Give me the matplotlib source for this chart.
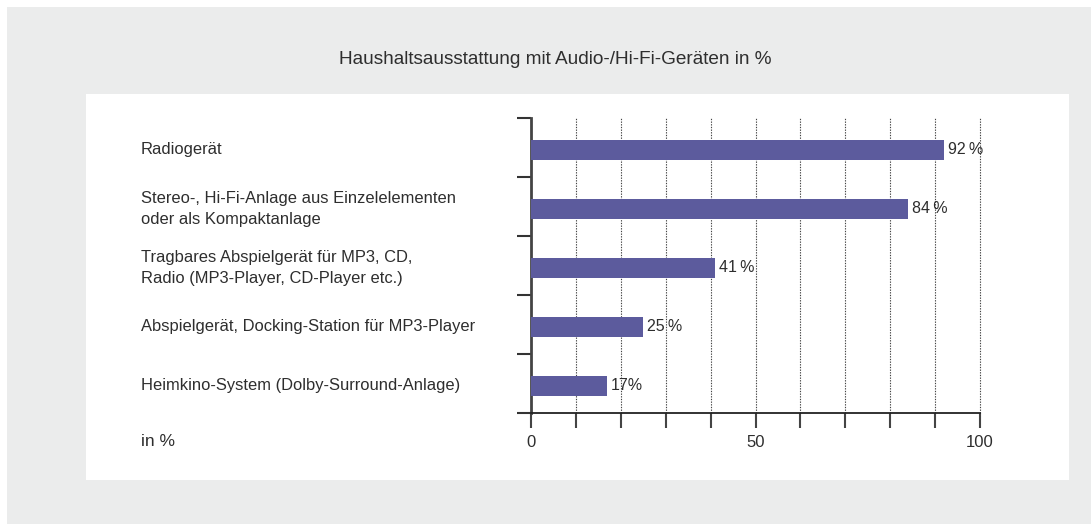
import matplotlib.pyplot as plt
import matplotlib.transforms as mtransforms
from matplotlib.patches import Rectangle

plt.rcParams['font.family'] = ['Liberation Sans', 'DejaVu Sans']

categories = [
    "Radiogerät",
    "Stereo-, Hi-Fi-Anlage aus Einzelelementen\noder als Kompaktanlage",
    "Tragbares Abspielgerät für MP3, CD,\nRadio (MP3-Player, CD-Player etc.)",
    "Abspielgerät, Docking-Station für MP3-Player",
    "Heimkino-System (Dolby-Surround-Anlage)",
]
values = [92, 84, 41, 25, 17]
value_labels = ["92\u2009%", "84\u2009%", "41\u2009%", "25\u2009%", "17%"]
title = "Haushaltsausstattung mit Audio-/Hi-Fi-Geräten in %"

W, H = 1091, 524
fig = plt.figure(figsize=(W / 100, H / 100), dpi=100)
fig.patch.set_facecolor("white")

def px_rect(x0, y0, x1, y1, color):
    # pixel box (top-left origin) -> figure fraction rectangle
    fig.patches.append(Rectangle((x0 / W, 1 - y1 / H), (x1 - x0) / W, (y1 - y0) / H,
                                 transform=fig.transFigure, facecolor=color,
                                 edgecolor="none", zorder=-10))

px_rect(7, 7, W, H, "#ebecec")
px_rect(86, 94, 1069, 480, "white")

text_col = "#2e2e2e"
bar_col = "#5c5b9d"

ax = fig.add_axes([531 / W, 1 - 413 / H, 449 / W, 295 / H])
ax.set_facecolor("none")
y = [i + 0.04 for i in range(len(categories))]
ax.barh(y, values, height=0.34, color=bar_col, zorder=3)
ax.set_xlim(0, 100)
ax.set_ylim(len(categories) - 0.5, -0.5)

for xv in range(10, 101, 10):
    ax.axvline(xv, color="#444444", linestyle=(0, (1.2, 1.2)), linewidth=0.8,
               zorder=1, clip_on=False)

for s in ["top", "right"]:
    ax.spines[s].set_visible(False)
ax.spines["left"].set_color("#444444")
ax.spines["left"].set_linewidth(2)
ax.spines["bottom"].set_color("#222222")
ax.spines["bottom"].set_linewidth(1.3)

ax.set_yticks([i - 0.5 for i in range(len(categories) + 1)])
ax.set_yticklabels([])
ax.tick_params(axis="y", length=10, width=1.5, color="#333333")
ax.set_xticks(range(0, 101, 10))
ax.set_xticklabels(["0", "", "", "", "", "50", "", "", "", "", "100"],
                   fontsize=12, color=text_col)
ax.tick_params(axis="x", length=11, width=1.5, color="#444444", pad=5)

for yi, v, lab in zip(y, values, value_labels):
    ax.text(v + 0.8, yi, lab, va="center", ha="left", fontsize=11.5, color=text_col, zorder=4)

trans = mtransforms.blended_transform_factory(fig.transFigure, ax.transData)
for yi, c in zip(y, categories):
    ax.text(141 / W, yi, c, transform=trans, va="center", ha="left",
            fontsize=11.9, color=text_col, linespacing=1.55)

fig.text(141 / W, 1 - 441 / H, "in %", va="center", ha="left", fontsize=12.5, color=text_col)
fig.text(555 / W, 1 - 60 / H, title, va="center", ha="center", fontsize=13.7, color=text_col)

fig.savefig("out.png", dpi=100)
